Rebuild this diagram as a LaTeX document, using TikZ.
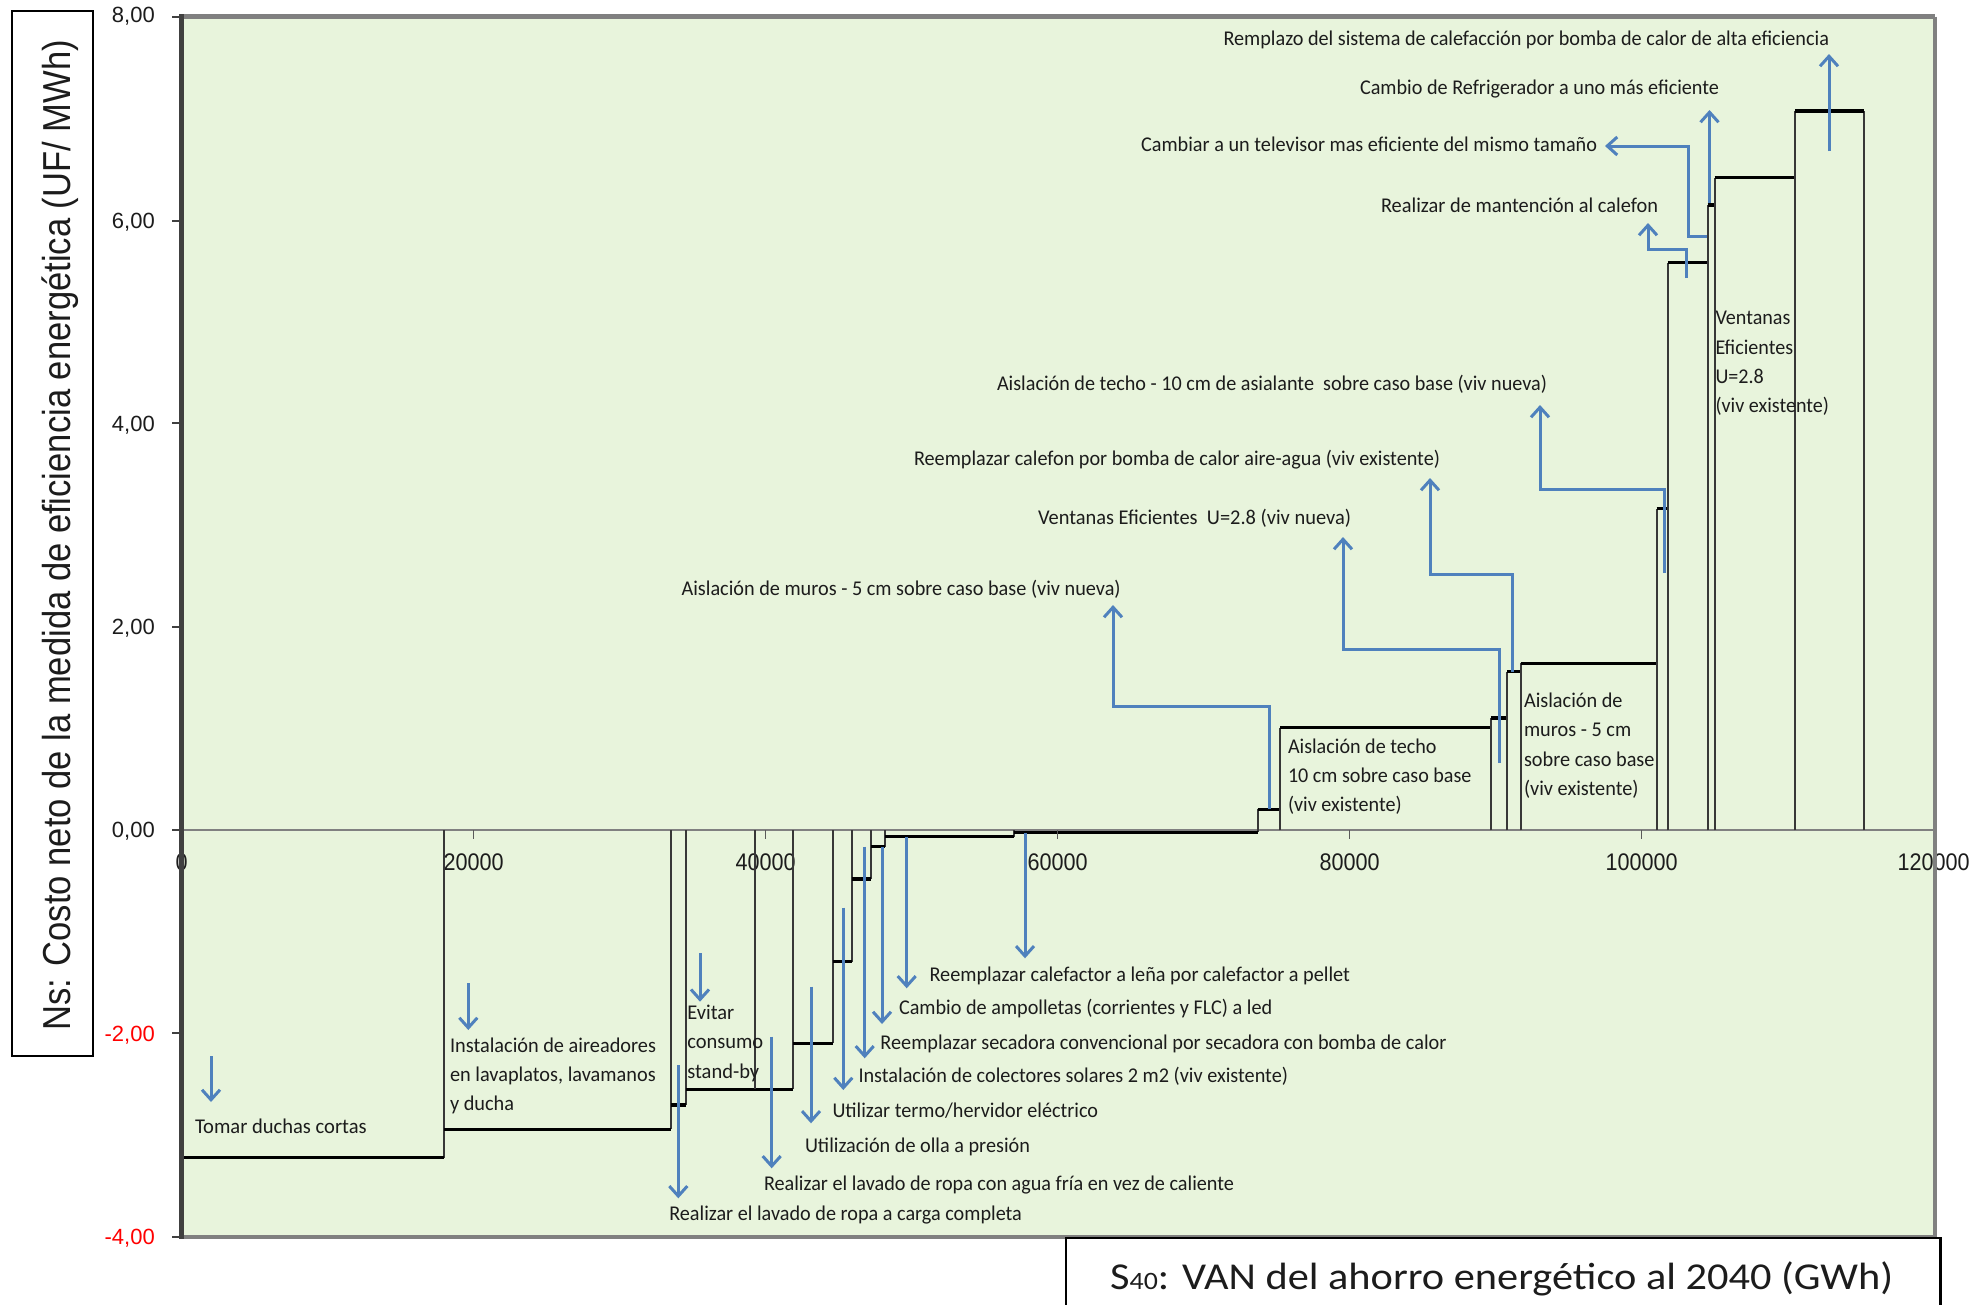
\documentclass[tikz,border=0pt]{standalone}
\usepackage{fontspec}
\usepackage{graphicx}
\setmainfont{Carlito}
\newfontfamily\arialf{Liberation Sans}
\usetikzlibrary{arrows.meta}
\definecolor{plotbg}{RGB}{232,244,220}
\definecolor{arrblue}{RGB}{79,129,189}
\definecolor{frameg}{RGB}{128,128,128}
\definecolor{txt}{RGB}{28,28,28}
\definecolor{sidegray}{RGB}{55,55,55}
% scale a text horizontally to a given width, keeping its height
\newcommand\fitw[2]{\resizebox{#1}{\height}{#2}}
\newcommand\annfont{\fontsize{21}{29.3}\selectfont}
\newcommand\lines[1]{\begin{tabular}{@{}l@{}}#1\end{tabular}}
\tikzset{
  ann/.style={inner sep=0pt, outer sep=0pt, text=txt, font=\annfont, anchor=base west},
  boxann/.style={inner sep=0pt, outer sep=0pt, text=txt, font=\annfont, anchor=west},
  arr/.style={draw=arrblue, line width=3pt, -{Straight Barb[length=10pt,width=18pt]}},
  side/.style={draw=sidegray, line width=2pt},
  level/.style={draw=black, line width=3.5pt},
  ytl/.style={inner sep=0pt, font=\arialf\fontsize{22}{22}\selectfont, anchor=base east, text=txt},
  xtl/.style={inner sep=0pt, font=\arialf\fontsize{24}{24}\selectfont, anchor=base, text=txt},
}
\begin{document}
\begin{tikzpicture}[x=1pt,y=-1pt]
\useasboundingbox (0,0) rectangle (1972,1304);

% plot area and zero line
\fill[plotbg] (181.7,16.7) rectangle (1935,1236.5);
\draw[frameg, line width=1.5pt] (181.7,830) -- (1935,830);

% x tick labels (the "0" sits under the vertical axis)
\foreach \px/\lab [count=\i] in {181.7/0, 473.7/20000, 765.7/40000, 1057.7/60000, 1349.7/80000, 1641.7/100000, 1933.7/120000}
  \node[xtl] (xl\i) at (\px,870.3) {\scalebox{0.9}[1]{\lab}};

% measure boxes: left edge / right edge / level
\foreach \a/\b/\c in {
  181.7/444.3/1157.7, 444.3/670.7/1129.3, 670.7/685.7/1105, 685.7/793.3/1089.3,
  793.3/832.5/1043.3, 832.5/852/961.7, 852/871.3/879, 871.3/885.3/846.7,
  885.3/1013.5/836.7, 1013.5/1257.5/832.3,
  1257.5/1280/809.4, 1280/1491/727.5, 1491/1507/718, 1507/1520.5/671.7,
  1520.5/1656.7/663.3, 1656.7/1667.6/508.7, 1667.6/1707.5/262.5,
  1707.5/1714.5/205, 1714.5/1795/177.5, 1795/1864/111}
{
  \draw[side] (\a,830) -- (\a,\c) (\b,830) -- (\b,\c);
  \draw[level] (\a,\c) -- (\b,\c);
}
\draw[sidegray, line width=1.5pt] (755,830) -- (755,1089.3);

% frame and axes
\draw[frameg, line width=4pt] (1935,16.7) -- (1935,1236.5) -- (181.7,1236.5);
\draw[frameg, line width=5pt] (181.7,16.7) -- (1935,16.7);
\draw[black!75, line width=5pt] (181.7,14.2) -- (181.7,1238.5);
\foreach \py in {16.7,220.7,423.3,626.7,830,1033.3,1236.6}
  \draw[black!75, line width=2pt] (172,\py) -- (181.7,\py);
\foreach \px in {473.7,765.7,1057.7,1349.7,1641.7}
  \draw[frameg!70!black, line width=1.5pt] (\px,830) -- (\px,839);

% y tick labels
\node[ytl] (yl8) at (155,22) {8,00};
\node[ytl] (yl6) at (155,228.6) {6,00};
\node[ytl] (yl4) at (155,431.2) {4,00};
\node[ytl] (yl2) at (155,634.6) {2,00};
\node[ytl] (yl0) at (155,837.9) {0,00};
\node[ytl, text=red] (ylm2) at (155,1041.2) {-2,00};
\node[ytl, text=red] (ylm4) at (155,1244.5) {-4,00};

% axis titles
\draw[black, line width=2pt] (12.3,10.7) rectangle (93.3,1055.8);
\node[inner sep=0pt, rotate=90, anchor=base, text=txt, font=\arialf\fontsize{39}{39}\selectfont] (ytitle) at (70,535.4)
  {\fitw{991pt}{Ns: Costo neto de la medida de eficiencia energética (UF/ MWh)}};
\draw[black, line width=2.5pt] (1066,1320) -- (1066,1238) -- (1940.6,1238) -- (1940.6,1320);
\node[inner sep=0pt, anchor=base west, text=txt, font=\fontsize{38}{38}\selectfont] (xtitle) at (1110,1289)
  {\fitw{783pt}{S{\fontsize{25}{25}\selectfont 40}: VAN del ahorro energético al 2040 (GWh)}};

% labels above the axis
\node[ann] (lRem) at (1223.5,45.3) {\fitw{605.5pt}{Remplazo del sistema de calefacción por bomba de calor de alta eficiencia}};
\node[ann] (lRef) at (1360,94) {\fitw{359pt}{Cambio de Refrigerador a uno más eficiente}};
\node[ann] (lTV) at (1141,151.7) {\fitw{456pt}{Cambiar a un televisor mas eficiente del mismo tamaño}};
\node[ann] (lMan) at (1381,212.7) {\fitw{277pt}{Realizar de mantención al calefon}};
\node[ann] (lTechoN) at (997,390.5) {\fitw{550pt}{Aislación de techo - 10 cm de asialante~ sobre caso base (viv nueva)}};
\node[ann] (lCalef) at (914,465) {\fitw{526pt}{Reemplazar calefon por bomba de calor aire-agua (viv existente)}};
\node[ann] (lVentN) at (1038,524) {\fitw{313pt}{Ventanas Eficientes~ U=2.8 (viv nueva)}};
\node[ann] (lMurosN) at (681.6,595) {\fitw{439pt}{Aislación de muros - 5 cm sobre caso base (viv nueva)}};

% labels inside boxes
\node[boxann] (lTechoE) at (1288,776.6) {\fitw{183.5pt}{\lines{Aislación de techo\\10 cm sobre caso base\\(viv existente)}}};
\node[boxann] (lMurosE) at (1524,745.7) {\fitw{130.5pt}{\lines{Aislación de\\muros - 5 cm\\sobre caso base\\(viv existente)}}};
\node[boxann] (lVentE) at (1715.5,362.9) {\fitw{113.5pt}{\lines{Ventanas\\Eficientes\\U=2.8\\(viv existente)}}};
\node[boxann] (lAir) at (450,1075.5) {\fitw{206pt}{\lines{Instalación de aireadores\\en lavaplatos, lavamanos\\y ducha}}};
\node[boxann] (lEvit) at (687.3,1043) {\fitw{76pt}{\lines{Evitar\\consumo\\stand-by}}};

% labels below the axis
\node[ann] (lLena) at (929.5,981) {\fitw{420.5pt}{Reemplazar calefactor a leña por calefactor a pellet}};
\node[ann] (lAmp) at (899,1014.3) {\fitw{373.3pt}{Cambio de ampolletas (corrientes y FLC) a led}};
\node[ann] (lSec) at (880.4,1049.3) {\fitw{566pt}{Reemplazar secadora convencional por secadora con bomba de calor}};
\node[ann] (lCol) at (858.5,1082) {\fitw{429.5pt}{Instalación de colectores solares 2 m2 (viv existente)}};
\node[ann] (lTermo) at (832.5,1117) {\fitw{265.5pt}{Utilizar termo/hervidor eléctrico}};
\node[ann] (lOlla) at (805,1152.7) {\fitw{225pt}{Utilización de olla a presión}};
\node[ann] (lFria) at (764,1190.3) {\fitw{470pt}{Realizar el lavado de ropa con agua fría en vez de caliente}};
\node[ann] (lCarga) at (669.3,1220.5) {\fitw{352.6pt}{Realizar el lavado de ropa a carga completa}};
\node[ann] (lDuchas) at (195,1133.5) {\fitw{171.7pt}{Tomar duchas cortas}};

% callout arrows: start on the measure, tip at its label
\coordinate (a1s) at (1829,151);   \coordinate (a1e) at (1829,54);
\coordinate (a2s) at (1709.5,203); \coordinate (a2e) at (1709.5,110);
\coordinate (a3s) at (1706.5,236.5); \coordinate (a3e) at (1605,146);
\coordinate (a4s) at (1686.5,278); \coordinate (a4e) at (1648,223);
\coordinate (a5s) at (1664,573);   \coordinate (a5e) at (1540,405);
\coordinate (a6s) at (1512,672);   \coordinate (a6e) at (1430,478);
\coordinate (a7s) at (1499,763);   \coordinate (a7e) at (1343,537);
\coordinate (a8s) at (1269,809);   \coordinate (a8e) at (1113,605);
\draw[arr] (a1s) -- (a1e);
\draw[arr] (a2s) -- (a2e);
\draw[arr] (a3s) -- (1688,236.5) -- (1688,146) -- (a3e);
\draw[arr] (a4s) -- (1686.5,249) -- (1648,249) -- (a4e);
\draw[arr] (a5s) -- (1664,489) -- (1540,489) -- (a5e);
\draw[arr] (a6s) -- (1512,574.5) -- (1430,574.5) -- (a6e);
\draw[arr] (a7s) -- (1499,649) -- (1343,649) -- (a7e);
\draw[arr] (a8s) -- (1269,706) -- (1113,706) -- (a8e);

\foreach \n/\px/\ya/\yb in {b1/211/1056/1102, b2/468.3/983.3/1030, b3/700/953.3/1001.7,
  b4/678.3/1065/1198.3, b5/771.7/1036.7/1168.3, b6/811/986.7/1123.3,
  b7/843.3/907.5/1090, b8/864.7/846.7/1058.3, b9/882/846.7/1024,
  b10/906.7/836.7/988.3, b11/1025/833.3/958.3}
{
  \coordinate (\n s) at (\px,\ya);
  \coordinate (\n e) at (\px,\yb);
  \draw[arr] (\n s) -- (\n e);
}
\end{tikzpicture}
\end{document}
